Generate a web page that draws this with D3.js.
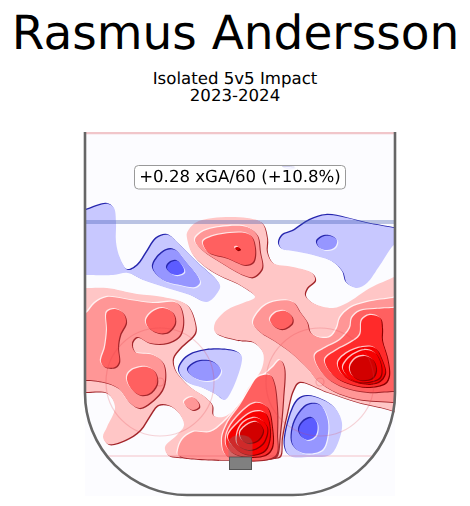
<!DOCTYPE html>
<html><head><meta charset="utf-8">
<style>html,body{margin:0;padding:0;background:#fff}svg{display:block}text{font-family:"DejaVu Sans",sans-serif;text-rendering:geometricPrecision}</style>
<script src="https://cdn.jsdelivr.net/npm/d3@7"></script></head><body>
<script>
const playerName = "Rasmus Andersson";
const subtitleLines = ["Isolated 5v5 Impact", "2023-2024"];
const impactLabel = "+0.28 xGA/60 (+10.8%)";

// Impact contours, in rink-grid units (0-310 across, 0-364 from the centre line)
const redLow = [[1,156],[22,156],[52,162],[78,165],[102,173],[110,191],[110,201],[95,216],[88,226],[90,238],[105,255],[120,265],[127,273],[128,283],[138,285],[152,275],[162,258],[177,236],[178,221],[168,210],[152,208],[130,200],[130,191],[142,178],[158,171],[170,165],[155,153],[128,140],[108,123],[102,106],[102,101],[110,91],[128,86],[162,86],[177,91],[182,106],[182,120],[188,131],[208,135],[227,141],[230,148],[222,156],[220,163],[228,171],[248,176],[262,171],[285,156],[309,145],[314,142],[314,281],[308,279],[298,276],[272,270],[242,260],[214,250],[208,258],[202,281],[197,305],[195,324],[188,326],[145,326],[92,325],[83,323],[80,315],[92,303],[99,293],[93,280],[83,273],[73,273],[65,283],[55,298],[40,308],[23,312],[18,305],[22,295],[30,275],[22,261],[1,260],[-4,260],[-4,156]];
const redLeft2 = [[1,181],[10,171],[22,165],[45,168],[68,171],[92,171],[98,185],[95,203],[82,211],[65,211],[52,205],[47,211],[50,220],[68,223],[78,231],[80,248],[75,261],[55,276],[45,271],[33,256],[18,250],[1,248],[-4,248],[-4,181]];
const redLeft3a = [[22,180],[30,177],[38,181],[41,190],[35,203],[33,215],[34,230],[30,235],[20,235],[16,230],[20,215],[22,198]];
const redLeft3b = [[61,188],[67,180],[78,176],[88,181],[90,191],[83,200],[73,201],[63,195]];
const redLeft3c = [[42,245],[47,238],[62,235],[70,240],[72,251],[65,261],[55,263],[45,255]];
const redSmall2 = [[99,270],[107,265],[113,270],[114,275],[108,278],[102,275]];
const redUpper2 = [[110,108],[117,100],[135,95],[162,95],[172,103],[175,120],[177,136],[168,145],[158,143],[135,130],[117,118]];
const redUpper3 = [[118,110],[123,106],[145,101],[165,103],[170,116],[168,130],[160,133],[142,126],[123,120]];
const redUpperDot = [[150,116],[153,115],[155,117],[152,118]];
const redRight2 = [[168,191],[178,175],[192,169],[208,170],[215,180],[222,190],[225,200],[233,205],[245,205],[252,196],[255,186],[265,176],[282,170],[308,166],[314,165],[314,271],[307,270],[272,267],[248,259],[232,248],[222,236],[205,220],[188,208],[175,200]];
const redRightDot = [[185,188],[190,181],[200,179],[207,185],[207,191],[198,197],[190,195]];
const redRight3 = [[230,223],[240,216],[255,208],[265,196],[267,186],[275,179],[290,177],[308,176],[314,176],[314,259],[308,259],[282,260],[258,255],[242,246],[232,233]];
const redRight4 = [[240,228],[252,218],[265,211],[275,203],[277,188],[285,183],[295,186],[297,196],[297,208],[302,225],[304,243],[300,251],[282,255],[262,251],[248,243]];
const redRight5 = [[253,231],[262,221],[278,215],[290,216],[297,228],[300,241],[293,250],[275,251],[258,243]];
const redRight5b = [[258,235],[265,225],[280,218],[290,221],[296,233],[295,245],[283,250],[270,249],[260,241]];
const redRight6 = [[265,235],[270,227],[280,224],[288,228],[291,238],[287,246],[275,248],[267,243]];
const redSlot2 = [[93,323],[93,318],[97,308],[108,300],[125,300],[138,291],[155,271],[172,250],[188,235],[195,228],[199,235],[198,268],[195,301],[192,323],[188,326],[102,326]];
const redSlot3 = [[142,324],[137,308],[143,290],[155,273],[165,256],[173,245],[185,243],[189,251],[192,275],[192,301],[190,324]];
const redSlot4 = [[142,301],[152,285],[170,271],[182,275],[187,295],[187,315],[180,323],[152,323],[142,315]];
const redSlot5 = [[143,305],[153,291],[168,280],[180,281],[185,301],[180,318],[165,323],[152,318]];
const redSlot5b = [[152,303],[158,291],[172,286],[182,295],[178,311],[165,318],[153,313]];
const redSlot6 = [[155,301],[162,293],[172,290],[178,298],[173,308],[163,311],[157,308]];

const blueTopLeft1 = [[-3,78],[1,78],[12,74],[23,72],[29,76],[31,90],[31,110],[35,126],[43,138],[53,133],[62,120],[72,106],[83,103],[95,113],[112,130],[135,153],[133,160],[122,170],[105,163],[82,156],[58,148],[43,141],[28,143],[1,143],[-3,143]];
const blueTopLeft2 = [[68,136],[72,126],[82,118],[90,118],[102,131],[115,150],[110,155],[95,153],[78,148]];
const blueTopLeft3 = [[82,136],[85,131],[92,129],[98,135],[99,140],[93,143],[87,142]];
const blueTopRight1 = [[194,111],[198,103],[208,99],[225,88],[242,83],[262,86],[282,91],[309,96],[313,97],[313,112],[309,113],[295,133],[282,151],[272,156],[262,151],[258,140],[248,130],[228,123],[208,119],[197,117]];
const blueTopRight2 = [[232,110],[237,105],[245,104],[252,108],[250,115],[242,118],[235,116]];
const blueMid1 = [[94,238],[102,225],[122,218],[152,220],[157,225],[140,268],[132,263],[118,256],[102,250]];
const blueMid2 = [[103,238],[112,230],[128,230],[136,238],[132,246],[122,249],[110,246]];
const blueLow1 = [[200,315],[203,291],[213,268],[223,264],[238,268],[250,276],[257,291],[253,311],[245,323],[225,325],[205,324]];
const blueLow2 = [[207,300],[212,285],[223,273],[235,273],[242,285],[243,301],[237,318],[218,321],[208,313]];
const blueLow3 = [[214,298],[218,290],[227,286],[232,291],[231,303],[223,308],[217,305]];
const blueSpeck = [[198,35.5],[205,35],[211,36],[205,37.5]];

// [polygon, level] : level >0 red, <0 blue
const contourOrder = [
  [blueTopLeft1,-1],[blueTopLeft2,-2],[blueTopLeft3,-3],[blueTopRight1,-1],[blueTopRight2,-2],
  [blueMid1,-1],[blueMid2,-2],[blueLow1,-1],[blueLow2,-2],[blueLow3,-3],[blueSpeck,-1],
  [redLow,1],[redLeft2,2],[redLeft3a,3],[redLeft3b,3],[redLeft3c,3],[redSmall2,2],
  [redUpper2,2],[redUpper3,3],[redUpperDot,6],
  [redRight2,2],[redRightDot,3],[redRight3,3],[redRight4,4],[redRight5,5],[redRight5b,5],[redRight6,6],
  [redSlot2,2],[redSlot3,3],[redSlot4,4],[redSlot5,5],[redSlot5b,5],[redSlot6,6]
];
const levels = [-3,-2,-1,1,2,3,4,5,6];
const levelColors = ["#5c5cff","#9696ff","#c8c8ff","#ffc6c6","#ff9696","#ff6060","#ff2c2c","#f70000","#d20000"];

// Rink layout in the same grid units
const faceoffCentres = [[75,250],[235,250]];
const faceoffRadius = 54;
const blueLineY = 90, goalLineY = 324, boardsBottom = 363, cornerRadius = 102;

const W = 470, H = 506;
const x = d3.scaleLinear().domain([0,310]).range([85,395]);
const y = d3.scaleLinear().domain([0,364]).range([132,496]);
const fill = d3.scaleOrdinal().domain(levels).range(levelColors);
const closed = d3.line().x(d=>x(d[0])).y(d=>y(d[1])).curve(d3.curveCatmullRomClosed.alpha(0.5));

const svg = d3.select("body").append("svg").attr("width",W).attr("height",H);
svg.append("rect").attr("width",W).attr("height",H).attr("fill","#fff");

svg.append("text").attr("x",235.5).attr("y",48.5).attr("text-anchor","middle").attr("font-size",47).attr("fill","#000").text(playerName);
const sub = svg.append("text").attr("text-anchor","middle").attr("font-size",16.6).attr("fill","#000");
subtitleLines.forEach((t,i)=>sub.append("tspan").attr("x",235).attr("y",84.3+i*16.7).text(t));

const defs = svg.append("defs");
defs.append("clipPath").attr("id","rink").append("rect")
  .attr("x",x(0)).attr("y",y(0)).attr("width",x(310)-x(0)).attr("height",y(364)-y(0));
defs.append("filter").attr("id","soft").attr("x","-5%").attr("y","-5%").attr("width","110%").attr("height","110%")
  .append("feGaussianBlur").attr("stdDeviation",0.4);

const plot = svg.append("g").attr("clip-path","url(#rink)");
plot.append("rect").attr("x",x(0)).attr("y",y(0)).attr("width",x(310)-x(0)).attr("height",y(364)-y(0)).attr("fill","#fcfcff");

const contourG = plot.append("g").attr("filter","url(#soft)");
contourOrder.forEach(([pts,lv])=>{
  const d = closed(pts);
  const red = lv>0;
  const s = red ? 1.1 : -1.1;
  const dark = red ? (lv>=4 ? "#8a0000" : "#a3262b") : "#2525ad";
  if (Math.abs(lv)>1) contourG.append("path").attr("d",d).attr("fill","#fff").attr("fill-opacity",0.75)
     .attr("transform",`translate(${-s},${-s})`);
  contourG.append("path").attr("d",d).attr("fill",dark).attr("transform",`translate(${s},${s})`);
  contourG.append("path").attr("d",d).attr("fill",fill(lv));
});

// Rink markings
const lines = plot.append("g");
lines.append("line").attr("x1",x(0)).attr("x2",x(310)).attr("y1",y(0)+0.5).attr("y2",y(0)+0.5).attr("stroke","#d8484e").attr("stroke-opacity",0.3).attr("stroke-width",3.5);
lines.append("line").attr("x1",x(0)).attr("x2",x(310)).attr("y1",y(blueLineY)).attr("y2",y(blueLineY)).attr("stroke","#3f5ab0").attr("stroke-opacity",0.35).attr("stroke-width",4);
lines.append("line").attr("x1",x(22)).attr("x2",x(288)).attr("y1",y(goalLineY)).attr("y2",y(goalLineY)).attr("stroke","#e04048").attr("stroke-opacity",0.3).attr("stroke-width",1.2);
faceoffCentres.forEach(c=>{
  lines.append("circle").attr("cx",x(c[0])).attr("cy",y(c[1])).attr("r",x(faceoffRadius)-x(0)).attr("fill","none").attr("stroke","#e04048").attr("stroke-opacity",0.22).attr("stroke-width",1.2);
  lines.append("circle").attr("cx",x(c[0])).attr("cy",y(c[1])).attr("r",x(4)-x(0)).attr("fill","none").attr("stroke","#e04048").attr("stroke-opacity",0.25).attr("stroke-width",1.2);
});
// crease
const cx = x(155.5), gy = y(goalLineY);
lines.append("path").attr("d",`M${cx-12},${gy} L${cx-12},${gy-14} Q${cx-10},${gy-21} ${cx},${gy-21} Q${cx+10},${gy-21} ${cx+12},${gy-14} L${cx+12},${gy} Z`).attr("fill","#808080").attr("fill-opacity",0.33);
// net
lines.append("rect").attr("x",cx-11).attr("y",gy+1).attr("width",22).attr("height",12.5).attr("fill","#808080").attr("stroke","#555").attr("stroke-width",1);

// Boards
const bx0=x(0), bx1=x(310), by0=y(0), by1=y(boardsBottom), r=x(cornerRadius)-x(0);
svg.append("path").attr("d",`M${bx0},${by0} L${bx0},${by1-r} A${r},${r} 0 0 0 ${bx0+r},${by1} L${bx1-r},${by1} A${r},${r} 0 0 0 ${bx1},${by1-r} L${bx1},${by0}`)
  .attr("fill","none").attr("stroke","#666").attr("stroke-width",2.6);

// label box
const box = svg.append("g");
box.append("rect").attr("x",134.5).attr("y",165.5).attr("width",211).attr("height",23.5).attr("rx",4).attr("fill","#fff").attr("fill-opacity",0.8).attr("stroke","#999").attr("stroke-width",1);
box.append("text").attr("x",240).attr("y",182).attr("text-anchor","middle").attr("font-size",16.6).attr("fill","#000").text(impactLabel);
</script></body></html>
